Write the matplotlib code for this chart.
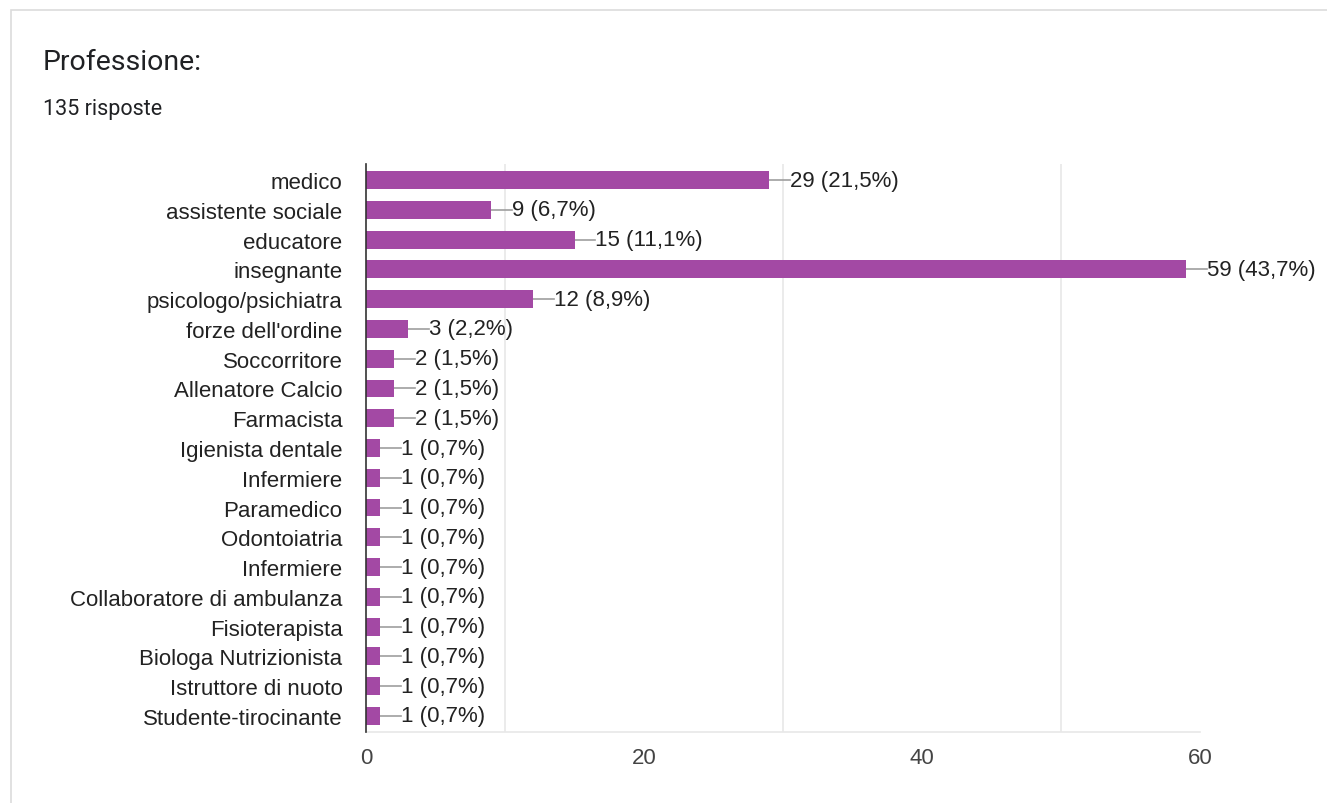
import matplotlib
matplotlib.use("Agg")
import matplotlib.pyplot as plt
from matplotlib.patches import Rectangle

categories = ["medico", "assistente sociale", "educatore", "insegnante",
              "psicologo/psichiatra", "forze dell'ordine", "Soccorritore",
              "Allenatore Calcio", "Farmacista", "Igienista dentale",
              "Infermiere", "Paramedico", "Odontoiatria", "Infermiere",
              "Collaboratore di ambulanza", "Fisioterapista",
              "Biologa Nutrizionista", "Istruttore di nuoto",
              "Studente-tirocinante"]
counts = [29, 9, 15, 59, 12, 3, 2, 2, 2, 1, 1, 1, 1, 1, 1, 1, 1, 1, 1]
percents = ["21,5%", "6,7%", "11,1%", "43,7%", "8,9%", "2,2%", "1,5%",
            "1,5%", "1,5%", "0,7%", "0,7%", "0,7%", "0,7%", "0,7%", "0,7%",
            "0,7%", "0,7%", "0,7%", "0,7%"]
xticks = [0, 20, 40, 60]
title = "Professione:"
subtitle = "135 risposte"

W, H = 1327, 804
fig = plt.figure(figsize=(W / 100, H / 100), dpi=100)
fig.patch.set_facecolor("white")

# card border
fig.add_artist(Rectangle((11 / W, -0.01), 1.1, 1 - 11 / H + 0.01,
                         transform=fig.transFigure, fill=False,
                         edgecolor="#dcdcdc", linewidth=1.2))

fig.text(43 / W, 1 - 62 / H, title, fontsize=20.5, family="Roboto",
         color="#202124", va="center", ha="left")
fig.text(43 / W, 1 - 110 / H, subtitle, fontsize=15.5, family="Roboto",
         color="#202124", va="center", ha="left")

left, right = 366 / W, 1200 / W
top, bottom = 1 - 165 / H, 1 - 733 / H
ax = fig.add_axes([left, bottom, right - left, top - bottom])

n = len(categories)
ys = list(range(n))
bar_color = "#A349A4"
ax.barh(ys, counts, height=0.6, color=bar_color, zorder=3)

label_font = "Liberation Sans"
for y, c, p in zip(ys, counts, percents):
    ax.plot([c, c + 1.5], [y, y], color="#9e9e9e", linewidth=1.2, zorder=2,
            clip_on=False)
    ax.text(c + 1.5, y, f"{c} ({p})", va="center", ha="left",
            fontsize=16, family=label_font, color="#222222", clip_on=False)

ax.set_xlim(0, 60)
ax.set_ylim(n - 0.46, -0.54)
ax.set_yticks(ys)
ax.set_yticklabels(categories, fontsize=16, family=label_font, color="#222222")
ax.set_xticks(xticks)
ax.set_xticks(list(range(0, 61, 10)), minor=True)
ax.set_xticklabels([str(t) for t in xticks], fontsize=16, family=label_font,
                   color="#444444")
ax.tick_params(axis="both", which="both", length=0)
ax.tick_params(axis="x", pad=11)
ax.tick_params(axis="y", pad=17)
ax.grid(axis="x", which="minor", color="#e8e8e8", linewidth=1.2, zorder=0)
for s in ["top", "right"]:
    ax.spines[s].set_visible(False)
ax.spines["bottom"].set_color("#e8e8e8")
ax.spines["bottom"].set_linewidth(1.2)
ax.spines["left"].set_color("#333333")
ax.spines["left"].set_linewidth(1.2)
ax.spines["left"].set_zorder(4)

fig.savefig("out.png", dpi=100)
